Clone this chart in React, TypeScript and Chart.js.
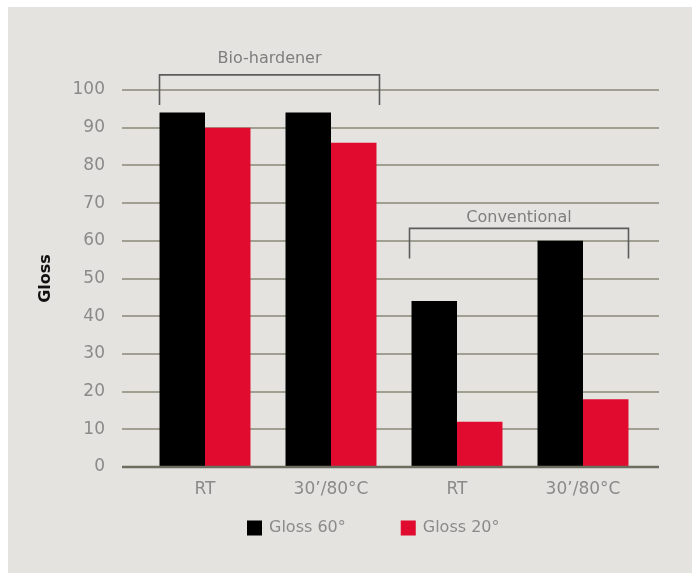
import React, { useEffect, useRef } from "react";
import { Chart, registerables } from "chart.js";

Chart.register(...registerables);

const categories = ["RT", "30’/80°C", "RT", "30’/80°C"];
const seriesNames = ["Gloss 60°", "Gloss 20°"];
const gloss60 = [94, 94, 44, 60];
const gloss20 = [90, 86, 12, 18];
const yTicks = [0, 10, 20, 30, 40, 50, 60, 70, 80, 90, 100];
const bracketLabels = ["Bio-hardener", "Conventional"];
const bracketFirst = [0, 2];
const bracketLast = [1, 3];
const bracketTop = [104, 63.3];
const bracketArm = [96, 55.3];
const bracketText = [108.2, 66.2];

const FONT = "'DejaVu Sans', sans-serif";
const BLACK = "#000000";
const RED = "#e00b2e";
const GRID = "#a09f91";
const ZERO = "#6c6c5f";
const TEXT = "#8a8a8a";

const decorPlugin = {
  id: "decor",
  beforeDatasetsDraw(chart: any) {
    const { ctx, chartArea } = chart;
    const y = chart.scales.y;
    ctx.save();
    ctx.strokeStyle = GRID;
    ctx.lineWidth = 2;
    yTicks.forEach((v) => {
      if (v === 0) return;
      const py = Math.round(y.getPixelForValue(v));
      ctx.beginPath();
      ctx.moveTo(chartArea.left - 20, py);
      ctx.lineTo(chartArea.right + 13, py);
      ctx.stroke();
    });
    ctx.restore();
  },
  afterDatasetsDraw(chart: any) {
    const { ctx, chartArea } = chart;
    const y = chart.scales.y;
    const m0 = chart.getDatasetMeta(0).data;
    const m1 = chart.getDatasetMeta(1).data;
    ctx.save();
    // zero line
    ctx.strokeStyle = ZERO;
    ctx.lineWidth = 2.5;
    const p0 = y.getPixelForValue(0);
    ctx.beginPath();
    ctx.moveTo(chartArea.left - 20, p0);
    ctx.lineTo(chartArea.right + 13, p0);
    ctx.stroke();

    // brackets
    bracketLabels.forEach((label, i) => {
      const a = m0[bracketFirst[i]];
      const b = m1[bracketLast[i]];
      const x1 = a.x - a.width / 2 + (i === 0 ? 0 : -2);
      const x2 = b.x + b.width / 2 + (i === 0 ? 3 : 0);
      const yt = y.getPixelForValue(bracketTop[i]);
      const ya = y.getPixelForValue(bracketArm[i]);
      ctx.strokeStyle = "#5c5c5c";
      ctx.lineWidth = 1.6;
      ctx.beginPath();
      ctx.moveTo(x1, ya);
      ctx.lineTo(x1, yt);
      ctx.lineTo(x2, yt);
      ctx.lineTo(x2, ya);
      ctx.stroke();
      ctx.fillStyle = "#7e7e7e";
      ctx.font = `16px ${FONT}`;
      ctx.textAlign = "center";
      ctx.textBaseline = "middle";
      ctx.fillText(label, (x1 + x2) / 2, y.getPixelForValue(bracketText[i]));
    });

    // legend
    const colors = [BLACK, RED];
    let lx = chartArea.left + 105;
    const ly = chartArea.bottom + 61;
    ctx.font = `16px ${FONT}`;
    ctx.textAlign = "left";
    ctx.textBaseline = "middle";
    seriesNames.forEach((name, i) => {
      ctx.fillStyle = colors[i];
      ctx.fillRect(lx, ly - 7.5, 15, 15);
      ctx.fillStyle = TEXT;
      ctx.fillText(name, lx + 22, ly);
      lx += 22 + ctx.measureText(name).width + 55;
    });
    ctx.restore();
  },
};

export default function App() {
  const ref = useRef<HTMLCanvasElement>(null);
  useEffect(() => {
    if (!ref.current) return;
    const chart = new Chart(ref.current, {
      type: "bar",
      data: {
        labels: categories,
        datasets: [
          { label: seriesNames[0], data: gloss60, backgroundColor: BLACK },
          { label: seriesNames[1], data: gloss20, backgroundColor: RED },
        ],
      },
      options: {
        responsive: false,
        animation: false,
        layout: { padding: { top: 83, right: 46, left: 0, bottom: 0 } },
        datasets: { bar: { categoryPercentage: 0.722, barPercentage: 1 } },
        plugins: { legend: { display: false }, tooltip: { enabled: false } },
        scales: {
          x: {
            grid: { display: false, drawTicks: false },
            border: { display: false },
            ticks: { color: TEXT, padding: 12, font: { family: FONT, size: 17 } },
            afterFit: (s: any) => {
              s.height = 106;
            },
          },
          y: {
            min: 0,
            max: 100,
            grid: { display: false, drawTicks: false },
            border: { display: false },
            afterBuildTicks: (s: any) => {
              s.ticks = yTicks.map((v) => ({ value: v }));
            },
            ticks: { color: TEXT, padding: 37, font: { family: FONT, size: 17 } },
            title: {
              display: true,
              text: "Gloss",
              color: "#111111",
              padding: { top: 28, bottom: 0 },
              font: { family: FONT, size: 16, weight: "bold" },
            },
            afterFit: (s: any) => {
              s.width = 134;
            },
          },
        },
      },
      plugins: [decorPlugin],
    });
    return () => chart.destroy();
  }, []);
  return (
    <div
      style={{
        position: "fixed",
        left: 8,
        top: 7,
        width: 684,
        height: 566,
        background: "#e4e3df",
      }}
    >
      <canvas ref={ref} width={684} height={566} style={{ display: "block" }} />
    </div>
  );
}
